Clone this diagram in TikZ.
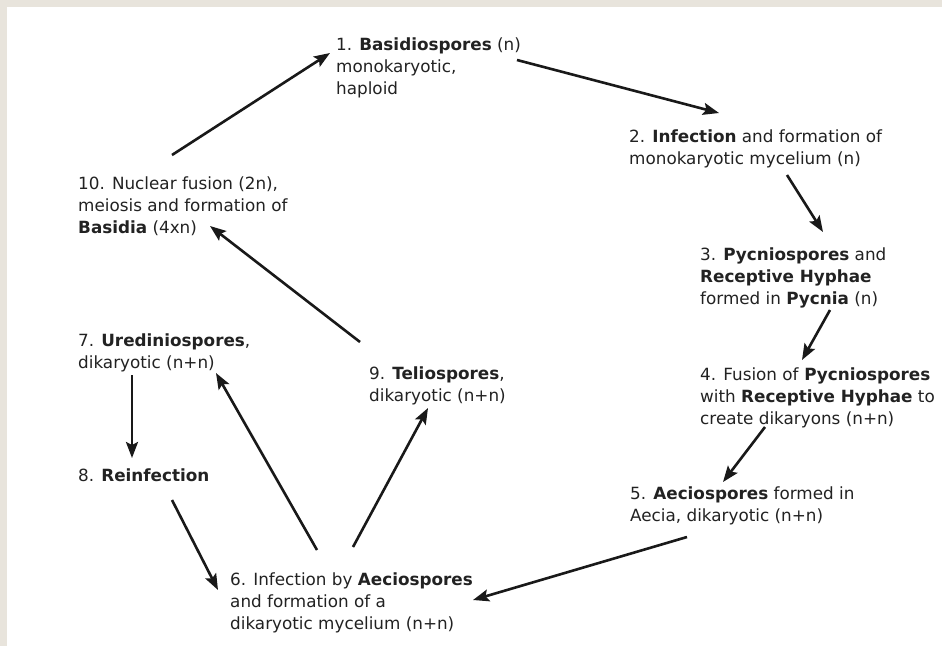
\documentclass[tikz,border=0pt]{standalone}
\usepackage{fontspec}
\setmainfont{DejaVu Sans}
\usetikzlibrary{arrows.meta,calc}
\definecolor{bgframe}{HTML}{E8E4DC}
\definecolor{txt}{HTML}{222222}
\tikzset{
  lbl/.style={anchor=base west, inner sep=0pt, align=left, text=txt,
    font=\fontsize{16.8}{22}\selectfont},
  arr/.style={line width=2.6pt, draw=black!90,
    -{Stealth[length=16pt,width=12pt,inset=3pt]}}
}
\begin{document}
\begin{tikzpicture}[x=1pt,y=-1pt]
\useasboundingbox (0,0) rectangle (942,646);
\fill[bgframe] (0,0) rectangle (942,646);
\fill[white] (7,7) rectangle (942,646);

% anchors are the baseline of the LAST line of each label
\node[lbl] (n1) at (336,94) {1. \textbf{Basidiospores} (n)\\monokaryotic,\\haploid};
\node[lbl] (n2) at (629,164) {2. \textbf{Infection} and formation of\\monokaryotic mycelium (n)};
\node[lbl] (n3) at (700,304) {3. \textbf{Pycniospores} and\\\textbf{Receptive Hyphae}\\formed in \textbf{Pycnia} (n)};
\node[lbl] (n4) at (700,424) {4. Fusion of \textbf{Pycniospores}\\with \textbf{Receptive Hyphae} to\\create dikaryons (n+n)};
\node[lbl] (n5) at (630,521) {5. \textbf{Aeciospores} formed in\\Aecia, dikaryotic (n+n)};
\node[lbl] (n6) at (230,629) {6. Infection by \textbf{Aeciospores}\\and formation of a\\dikaryotic mycelium (n+n)};
\node[lbl] (n7) at (78,368) {7. \textbf{Urediniospores},\\dikaryotic (n+n)};
\node[lbl] (n8) at (78,481) {8. \textbf{Reinfection}};
\node[lbl] (n9) at (369,401) {9. \textbf{Teliospores},\\dikaryotic (n+n)};
\node[lbl] (n10) at (78,233) {10. Nuclear fusion (2n),\\meiosis and formation of\\\textbf{Basidia} (4xn)};

\draw[arr] ($(n10.base west)+(94,-78)$) -- ($(n1.base west)+(-6,-41)$);
\draw[arr] ($(n1.base west)+(181,-34)$) -- ($(n2.base west)+(90,-51)$);
\draw[arr] ($(n2.base west)+(158,11)$) -- ($(n3.base west)+(123,-72)$);
\draw[arr] ($(n3.base west)+(130,6)$) -- ($(n4.base west)+(102,-64)$);
\draw[arr] ($(n4.base west)+(65,3)$) -- ($(n5.base west)+(93,-39)$);
\draw[arr] ($(n5.base west)+(57,16)$) -- ($(n6.base west)+(243,-29)$);
\draw[arr] ($(n6.base west)+(87,-79)$) -- ($(n7.base west)+(138,5)$);
\draw[arr] ($(n6.base west)+(123,-82)$) -- ($(n9.base west)+(59,7)$);
\draw[arr] ($(n7.base west)+(54,7)$) -- ($(n8.base west)+(54,-23)$);
\draw[arr] ($(n8.base west)+(94,19)$) -- ($(n6.base west)+(-12,-39)$);
\draw[arr] ($(n9.base west)+(-9,-59)$) -- ($(n10.base west)+(132,-7)$);
\end{tikzpicture}
\end{document}
